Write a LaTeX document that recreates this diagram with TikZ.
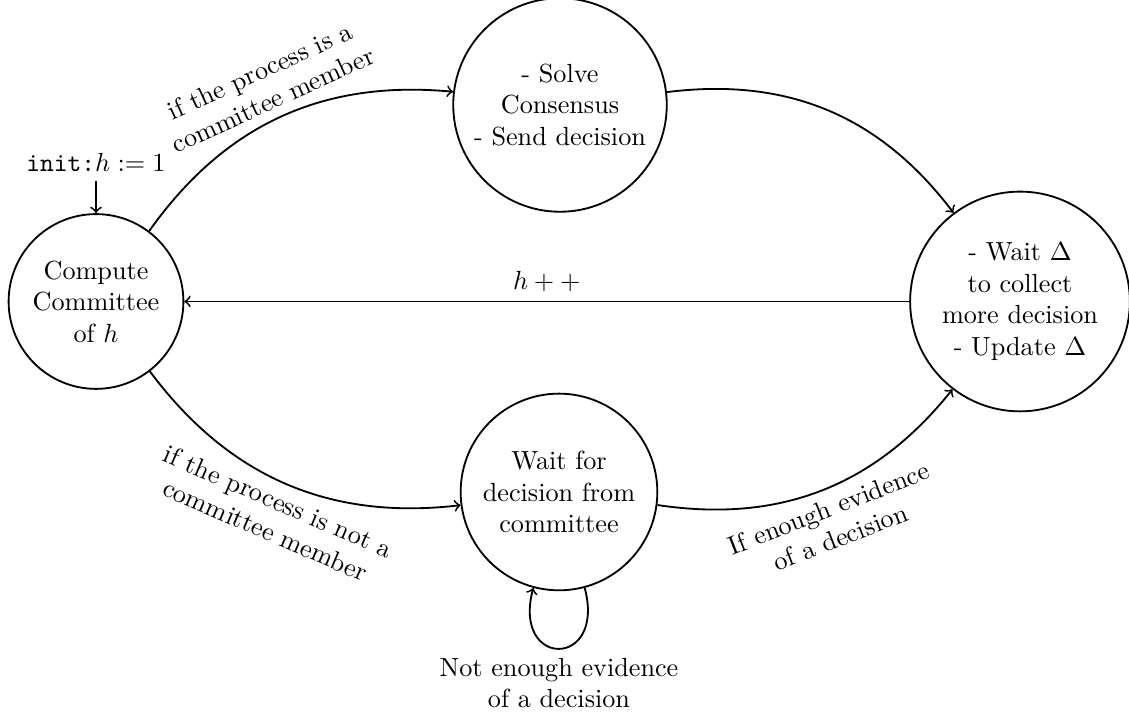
\documentclass[tikz,border=0pt]{standalone}
\begin{document}
\begin{tikzpicture}[x=0.3817pt, y=0.3817pt,
  state/.style={circle, draw, line width=0.7pt, align=center},
  conn/.style={->, line width=0.7pt},
  lbl/.style={align=center, sloped}]
\useasboundingbox (0,0) rectangle (1129,715);
\node[state] (A) at (96,413.5) {Compute\\Committee\\of $h$};
\node[state] (B) at (560,610) {- Solve\\Consensus\\- Send decision};
\node[state] (C) at (1020,413.5) {- Wait $\Delta$\\to collect\\more decision\\- Update $\Delta$};
\node[state] (D) at (559,223) {Wait for\\decision from\\committee};
\node (init) at (96,552) {\texttt{init:}$h := 1$};
\draw[conn] (init) -- (A);
\draw[conn] (A) to[bend left=30] node[lbl, above] {if the process is a\\committee member} (B);
\draw[conn] (B) to[bend left=30] (C);
\draw[conn] (A) to[bend right=30] node[lbl, below] {if the process is not a\\committee member} (D);
\draw[conn] (D) to[bend right=30] node[lbl, below] {If enough evidence\\of a decision} (C);
\draw[conn] (C) -- node[above] {$h++$} (A);
\draw[conn] (D.-75) .. controls +(-75:84) and +(-105:84) .. (D.-105);
\node[align=center] (loopl) at (559,32) {Not enough evidence\\of a decision};
\end{tikzpicture}
\end{document}
